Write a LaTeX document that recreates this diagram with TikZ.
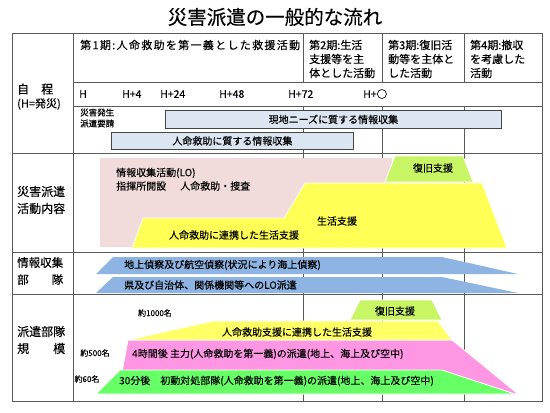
\documentclass[tikz,border=0pt]{standalone}
\usepackage{fontspec}
\setmainfont{Noto Sans CJK JP}[FakeBold=0.25]
\definecolor{gridc}{RGB}{90,90,90}
\definecolor{boxfill}{RGB}{220,230,242}
\definecolor{boxline}{RGB}{70,70,70}
\definecolor{pinkbg}{RGB}{242,220,219}
\definecolor{yelA}{RGB}{255,255,85}
\definecolor{yelB}{RGB}{255,255,102}
\definecolor{lgreen}{RGB}{200,245,100}
\definecolor{blueA}{RGB}{141,180,226}
\definecolor{pinkB}{RGB}{255,150,228}
\definecolor{greenB}{RGB}{102,255,102}
\tikzset{
  gridline/.style={draw=gridc, line width=0.9pt},
  txt/.style={inner sep=0pt, font=\fontsize{10}{12}\selectfont},
  hdr/.style={inner sep=0pt, anchor=west, align=left, font=\fontsize{11}{14}\selectfont},
  lbl/.style={inner sep=0pt, anchor=west, align=left, font=\fontsize{12}{17}\selectfont},
  small/.style={inner sep=0pt, font=\fontsize{8}{11}\selectfont},
  tick/.style={inner sep=0pt, anchor=west, font=\fontsize{10.5}{12}\selectfont},
  infobox/.style={draw=boxline, fill=boxfill, line width=0.8pt, inner sep=0pt, anchor=north west, font=\fontsize{10}{12}\selectfont},
  shapeedge/.style={draw=white, line width=0.8pt}
}
\begin{document}
\begin{tikzpicture}[x=1pt,y=-1pt]
\useasboundingbox[fill=white] (0,0) rectangle (550,413);
% title
\node[inner sep=0pt, font=\fontsize{19.5}{22}\selectfont] (title) at (275,17) {災害派遣の一般的な流れ};
% grid
\draw[gridline] (73,33) -- (73,401);
\draw[gridline] (73,82) -- (542,82);
\draw[gridline] (73,106) -- (542,106);
\draw[gridline] (12,153) -- (542,153);
\draw[gridline] (12,252) -- (542,252);
\draw[gridline] (12,294) -- (542,294);
\foreach \cx in {303,382,464}{
  \draw[gridline] (\cx,33) -- (\cx,82);
  \draw[gridline] (\cx,106) -- (\cx,401);
}
% header
\node[hdr, font=\fontsize{11}{14}\selectfont\addfontfeatures{LetterSpace=12}] (p1) at (80,45) {第1期:人命救助を第一義とした救援活動};
\node[hdr] (p2) at (309,59) {第2期:生活\\支援等を主\\体とした活動};
\node[hdr] (p3) at (388,59) {第3期:復旧活\\動等を主体と\\した活動};
\node[hdr] (p4) at (470,59) {第4期:撤収\\を考慮した\\活動};
% left labels
\node[lbl] (l1) at (17,89) {自　程};
\node[inner sep=0pt, anchor=west, font=\fontsize{11}{13}\selectfont] (l1b) at (17,104) {(H=発災)};
\node[lbl] (l2) at (17,200) {災害派遣\\活動内容};
\node[lbl, font=\fontsize{11.5}{17}\selectfont] (l3) at (17,271) {情報収集\\\hbox to 46pt{部\hfill 隊}};
\node[lbl] (l4) at (17,340) {派遣部隊\\\hbox to 48pt{規\hfill 模}};
% ticks
\node[tick] (h0) at (79,94) {H};
\node[tick] (h4) at (122,94) {H+4};
\node[tick] (h24) at (160,94) {H+24};
\node[tick] (h48) at (219,94) {H+48};
\node[tick] (h72) at (288,94) {H+72};
\node[tick] (hx) at (363,94) {H+○};
% 自程 subrow
\node[small, anchor=west, align=left, font=\fontsize{8.5}{11}\selectfont] (hs) at (80,118) {災害発生\\派遣要請};
\node[infobox, minimum width=336pt, minimum height=18pt] (nb1) at (165,110) {現地ニーズに質する情報収集};
\node[infobox, minimum width=242pt, minimum height=17pt] (nb2) at (111,132) {人命救助に質する情報収集};
% activity
\fill[pinkbg] (100,158) rectangle (392,247);
\filldraw[fill=lgreen, shapeedge] (395,156) -- (463,156) -- (473,182) -- (385,182) -- cycle;
\filldraw[fill=yelA, shapeedge] (132,248) -- (143,218) -- (284,218) -- (305,183) -- (482,183) -- (507,248) -- cycle;
\node[txt, anchor=west] (a1) at (116,173) {情報収集活動(LO)};
\node[txt, anchor=west] (a2) at (116,186) {指揮所開設\hspace{14pt}人命救助・捜査};
\node[txt] (a3) at (433,168) {復旧支援};
\node[txt] (a4) at (337,221) {生活支援};
\node[txt] (a5) at (234,235) {人命救助に連携した生活支援};
% info
\fill[blueA] (96,274) -- (113,257) -- (442,257) -- (518,274) -- cycle;
\fill[blueA] (96,293) -- (113,277) -- (442,277) -- (518,293) -- cycle;
\node[txt, anchor=west] (i1) at (124,265) {地上偵察及び航空偵察(状況により海上偵察)};
\node[txt, anchor=west] (i2) at (124,285) {県及び自治体、関係機関等へのLO派遣};
% scale
\filldraw[fill=pinkB, shapeedge] (128,340) -- (452,340) -- (518,394) -- (118,394) -- cycle;
\filldraw[fill=greenB, shapeedge] (96,394) -- (120,370) -- (442,370) -- (515,394) -- cycle;
\filldraw[fill=yelB, shapeedge] (128,340) -- (213,321) -- (438,321) -- (452,340) -- cycle;
\filldraw[fill=lgreen, shapeedge] (360,300) -- (432,300) -- (442,320) -- (350,320) -- cycle;
\node[txt] (s1) at (395,311) {復旧支援};
\node[txt] (s2) at (297,332) {人命救助支援に連携した生活支援};
\node[txt, anchor=west] (s3) at (132,354) {4時間後 主力(人命救助を第一義)の派遣(地上、海上及び空中)};
\node[txt, anchor=west] (s4) at (119,381) {30分後　初動対処部隊(人命救助を第一義)の派遣(地上、海上及び空中)};
\node[small] (n1) at (155,313) {約1000名};
\node[small] (n2) at (95,353) {約500名};
\node[small] (n3) at (87,379) {約60名};
% outer border
\draw[gridline] (12,33) rectangle (542,401);
\end{tikzpicture}
\end{document}
